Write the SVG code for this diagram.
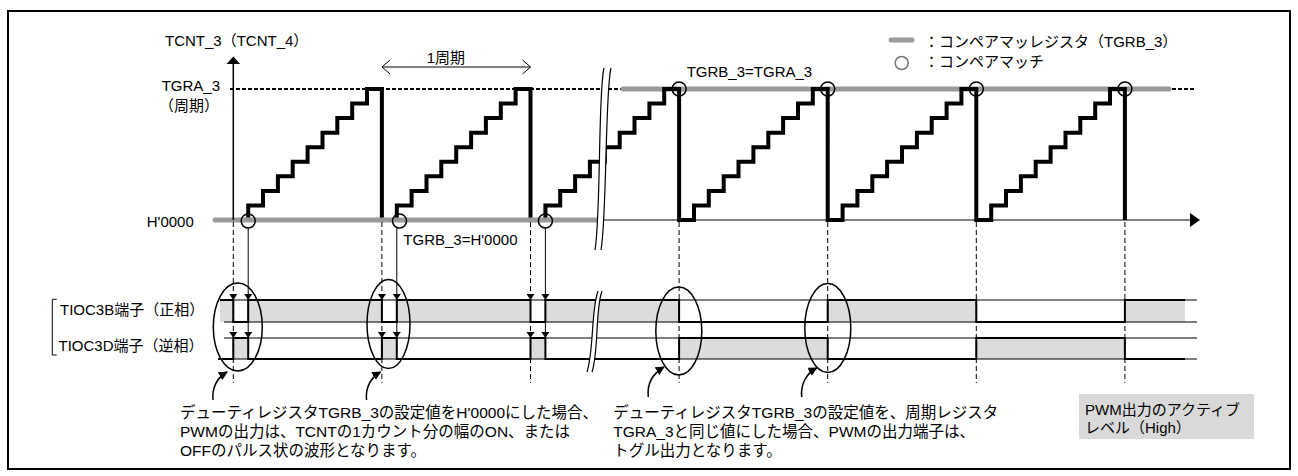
<svg xmlns="http://www.w3.org/2000/svg" width="1298" height="476" viewBox="0 0 1298 476">
<style>
.t{font-family:"Liberation Sans","Noto Sans CJK JP",sans-serif;font-size:15px;fill:#000}
.tb{font-size:15.5px}
.dash{stroke:#000;stroke-width:1;stroke-dasharray:5 3;fill:none}
.thin{stroke:#000;stroke-width:1;fill:none}
.gray{stroke:#999;stroke-width:5;fill:none}
.stair{stroke:#000;stroke-width:4;fill:none;stroke-linejoin:miter}
.cm{stroke:#000;stroke-width:1.5;fill:none}
.hi{fill:#dcdcdc}
.sig{stroke:#000;stroke-width:2;fill:none}
.brk{stroke:#000;stroke-width:1.2;fill:none}
</style>
<defs>
<path id="tri" d="M-4,-6 L4,-6 L0,0 Z" fill="#000"/>
<marker id="ah" viewBox="0 0 10 10" refX="9" refY="5" markerWidth="9" markerHeight="9" markerUnits="userSpaceOnUse" orient="auto">
<path d="M0,0 L10,5 L0,10 Z" fill="#000"/>
</marker>
</defs>
<rect x="8" y="11" width="1282" height="458" fill="#fff" stroke="#000" stroke-width="2"/>

<g id="chart">
<line x1="230" y1="89" x2="1195" y2="89" stroke="#000" stroke-width="2" stroke-dasharray="4 2"/>
<line class="gray" x1="623" y1="89" x2="1169" y2="89" stroke-linecap="round"/>
<line x1="602" y1="220" x2="1192" y2="220" class="thin"/>
<path d="M1190,213 L1200,220 L1190,227 Z" fill="#000"/>
<path class="stair" d="M248.2,220 V205.4 H263 V190.9 H277.9 V176.3 H292.7 V161.8 H307.6 V147.2 H322.5 V132.7 H337.3 V118.1 H352.2 V103.6 H367 V89 H381.9 V220 H396.8 V205.4 H411.6 V190.9 H426.5 V176.3 H441.3 V161.8 H456.2 V147.2 H471.1 V132.7 H485.9 V118.1 H500.8 V103.6 H515.6 V89 H530.5 V220 H545.4 V205.4 H560.2 V190.9 H575.1 V176.3 H589.9 V161.8 H604.8 V147.2 H619.7 V132.7 H634.5 V118.1 H649.4 V103.6 H664.2 V89 H679.1 V220 H694 V205.4 H708.8 V190.9 H723.7 V176.3 H738.5 V161.8 H753.4 V147.2 H768.3 V132.7 H783.1 V118.1 H798 V103.6 H812.8 V89 H827.7 V220 H842.6 V205.4 H857.4 V190.9 H872.3 V176.3 H887.1 V161.8 H902 V147.2 H916.9 V132.7 H931.7 V118.1 H946.6 V103.6 H961.4 V89 H976.3 V220 H991.2 V205.4 H1006 V190.9 H1020.9 V176.3 H1035.7 V161.8 H1050.6 V147.2 H1065.5 V132.7 H1080.3 V118.1 H1095.2 V103.6 H1110 V89 H1124.9 V220"/>
<line class="gray" x1="215" y1="220" x2="602" y2="220" stroke-linecap="round"/>
<line x1="233.3" y1="220" x2="233.3" y2="63" stroke="#000" stroke-width="1.5"/>
<path d="M226.5,64 L233.3,56.5 L240.1,64 Z" fill="#000"/>
<g id="matches">
<circle class="cm" cx="248.2" cy="221" r="7"/>
<circle class="cm" cx="399.5" cy="221" r="7"/>
<circle class="cm" cx="545.4" cy="221" r="7"/>
<circle class="cm" cx="679.1" cy="89" r="7"/>
<circle class="cm" cx="827.7" cy="89" r="7"/>
<circle class="cm" cx="976.3" cy="89" r="7"/>
<circle class="cm" cx="1124.9" cy="89" r="7"/>
</g>
<path d="M604,68 C598,92 601,215 595,250 L601,250 C607,215 605,92 611,68 Z" fill="#fff"/>
<path class="brk" d="M604,68 C598,92 601,215 595,250"/>
<path class="brk" d="M611,68 C605,92 607,215 601,250"/>
</g>

<g id="wave">
<g id="tioc3b-fill">
<rect class="hi" x="220" y="300" width="13.3" height="22"/>
<rect class="hi" x="248.2" y="300" width="133.7" height="22"/>
<rect class="hi" x="396.8" y="300" width="133.7" height="22"/>
<rect class="hi" x="545.4" y="300" width="133.7" height="22"/>
<rect class="hi" x="827.7" y="300" width="148.6" height="22"/>
<rect class="hi" x="1124.9" y="300" width="60.1" height="22"/>
</g>
<g id="tioc3d-fill">
<rect class="hi" x="233.3" y="338" width="14.9" height="21"/>
<rect class="hi" x="381.9" y="338" width="14.9" height="21"/>
<rect class="hi" x="530.5" y="338" width="14.9" height="21"/>
<rect class="hi" x="679.1" y="338" width="148.6" height="21"/>
<rect class="hi" x="976.3" y="338" width="148.6" height="21"/>
</g>
<line class="thin" x1="220" y1="300" x2="1197" y2="300"/>
<line class="thin" x1="224" y1="322" x2="1197" y2="322"/>
<line class="thin" x1="224" y1="338" x2="1197" y2="338"/>
<line class="thin" x1="218" y1="359" x2="1197" y2="359"/>
<path class="sig" d="M220,300 H233.3 V322 H248.2 V300 H381.9 V322 H396.8 V300 H530.5 V322 H545.4 V300 H679.1 V322 H827.7 V300 H976.3 V322 H1124.9 V300 H1185"/>
<path class="sig" d="M218,359 H233.3 V338 H248.2 V359 H381.9 V338 H396.8 V359 H530.5 V338 H545.4 V359 H679.1 V338 H827.7 V359 H976.3 V338 H1124.9 V359 H1185"/>
<path d="M598,291 C591,310 594,350 587,372 L592,372 C599,350 595,310 602,291 Z" fill="#fff"/>
<path class="brk" d="M598,291 C591,310 594,350 587,372"/>
<path class="brk" d="M602,291 C595,310 599,350 592,372"/>
<path d="M56.7,299.3 H52.3 V355 H56.7" class="thin"/>
</g>

<g id="connectors">
<line class="dash" x1="233.3" y1="222" x2="233.3" y2="383"/>
<line class="dash" x1="381.9" y1="222" x2="381.9" y2="383"/>
<line class="dash" x1="530.5" y1="222" x2="530.5" y2="383"/>
<line class="dash" x1="679.1" y1="222" x2="679.1" y2="383"/>
<line class="dash" x1="827.7" y1="222" x2="827.7" y2="383"/>
<line class="dash" x1="976.3" y1="222" x2="976.3" y2="383"/>
<line class="dash" x1="1124.9" y1="222" x2="1124.9" y2="383"/>
<line class="thin" x1="248.2" y1="228" x2="248.2" y2="338"/>
<line class="thin" x1="396.8" y1="228" x2="396.8" y2="338"/>
<line class="thin" x1="545.4" y1="228" x2="545.4" y2="338"/>
<g id="edge-arrows">
<use href="#tri" x="233.3" y="300"/><use href="#tri" x="248.2" y="300"/>
<use href="#tri" x="381.9" y="300"/><use href="#tri" x="396.8" y="300"/>
<use href="#tri" x="530.5" y="300"/><use href="#tri" x="545.4" y="300"/>
<use href="#tri" x="233.3" y="338"/><use href="#tri" x="248.2" y="338"/>
<use href="#tri" x="381.9" y="338"/><use href="#tri" x="396.8" y="338"/>
<use href="#tri" x="530.5" y="338"/><use href="#tri" x="545.4" y="338"/>
</g>
<g id="period-arrow">
<line class="thin" x1="382" y1="67" x2="530.5" y2="67"/>
<path class="thin" d="M390,60 L382,67 L390,74"/>
<path class="thin" d="M522.5,60 L530.5,67 L522.5,74"/>
</g>
<path class="cm" d="M213,400 C212,388 217,378 227,372" marker-end="url(#ah)"/>
<path class="cm" d="M366.5,400 C365.5,388 370.5,378 380.5,372" marker-end="url(#ah)"/>
<path class="cm" d="M648.3,397 C647,385 652,374 664,367" marker-end="url(#ah)"/>
<path class="cm" d="M801.7,397 C800.5,385 805.5,374 816.7,368" marker-end="url(#ah)"/>
</g>

<g id="ellipses">
<ellipse class="cm" cx="237.8" cy="327" rx="24.5" ry="44"/>
<ellipse class="cm" cx="388.5" cy="324" rx="21.5" ry="44.5"/>
<ellipse class="cm" cx="678.8" cy="331" rx="23" ry="44"/>
<ellipse class="cm" cx="827.8" cy="328" rx="23" ry="44.5"/>
</g>

<g id="legend">
<line x1="891" y1="40" x2="912" y2="40" stroke="#999" stroke-width="5" stroke-linecap="round"/>
<circle cx="901.7" cy="63" r="6.5" fill="none" stroke="#777" stroke-width="1.5"/>
<text class="t" x="924" y="47">：コンペアマッレジスタ（TGRB_3）</text>
<text class="t" x="924" y="67">：コンペアマッチ</text>
</g>

<g id="labels">
<text class="t" x="165" y="46">TCNT_3（TCNT_4）</text>
<text class="t" x="161.7" y="90.5">TGRA_3</text>
<text class="t" x="159" y="111">（周期）</text>
<text class="t" x="146.7" y="227">H'0000</text>
<text class="t" x="403.3" y="245">TGRB_3=H'0000</text>
<text class="t" x="426.7" y="63">1周期</text>
<text class="t" x="686.7" y="77">TGRB_3=TGRA_3</text>
<text class="t" x="60" y="314.5">TIOC3B端子（正相）</text>
<text class="t" x="58.5" y="351">TIOC3D端子（逆相）</text>
</g>

<g id="note-h0000">
<text class="t tb" x="180" y="418">デューティレジスタTGRB_3の設定値をH'0000にした場合、</text>
<text class="t tb" x="180" y="437">PWMの出力は、TCNTの1カウント分の幅のON、または</text>
<text class="t tb" x="180" y="456">OFFのパルス状の波形となります。</text>
</g>
<g id="note-toggle">
<text class="t tb" x="613.3" y="418">デューティレジスタTGRB_3の設定値を、周期レジスタ</text>
<text class="t tb" x="613.3" y="437">TGRA_3と同じ値にした場合、PWMの出力端子は、</text>
<text class="t tb" x="613.3" y="456">トグル出力となります。</text>
</g>
<g id="active-level">
<rect x="1079" y="394" width="175" height="45" fill="#d9d9d9"/>
<text class="t" x="1085" y="415">PWM出力のアクティブ</text>
<text class="t" x="1085" y="433">レベル（High）</text>
</g>
</svg>
